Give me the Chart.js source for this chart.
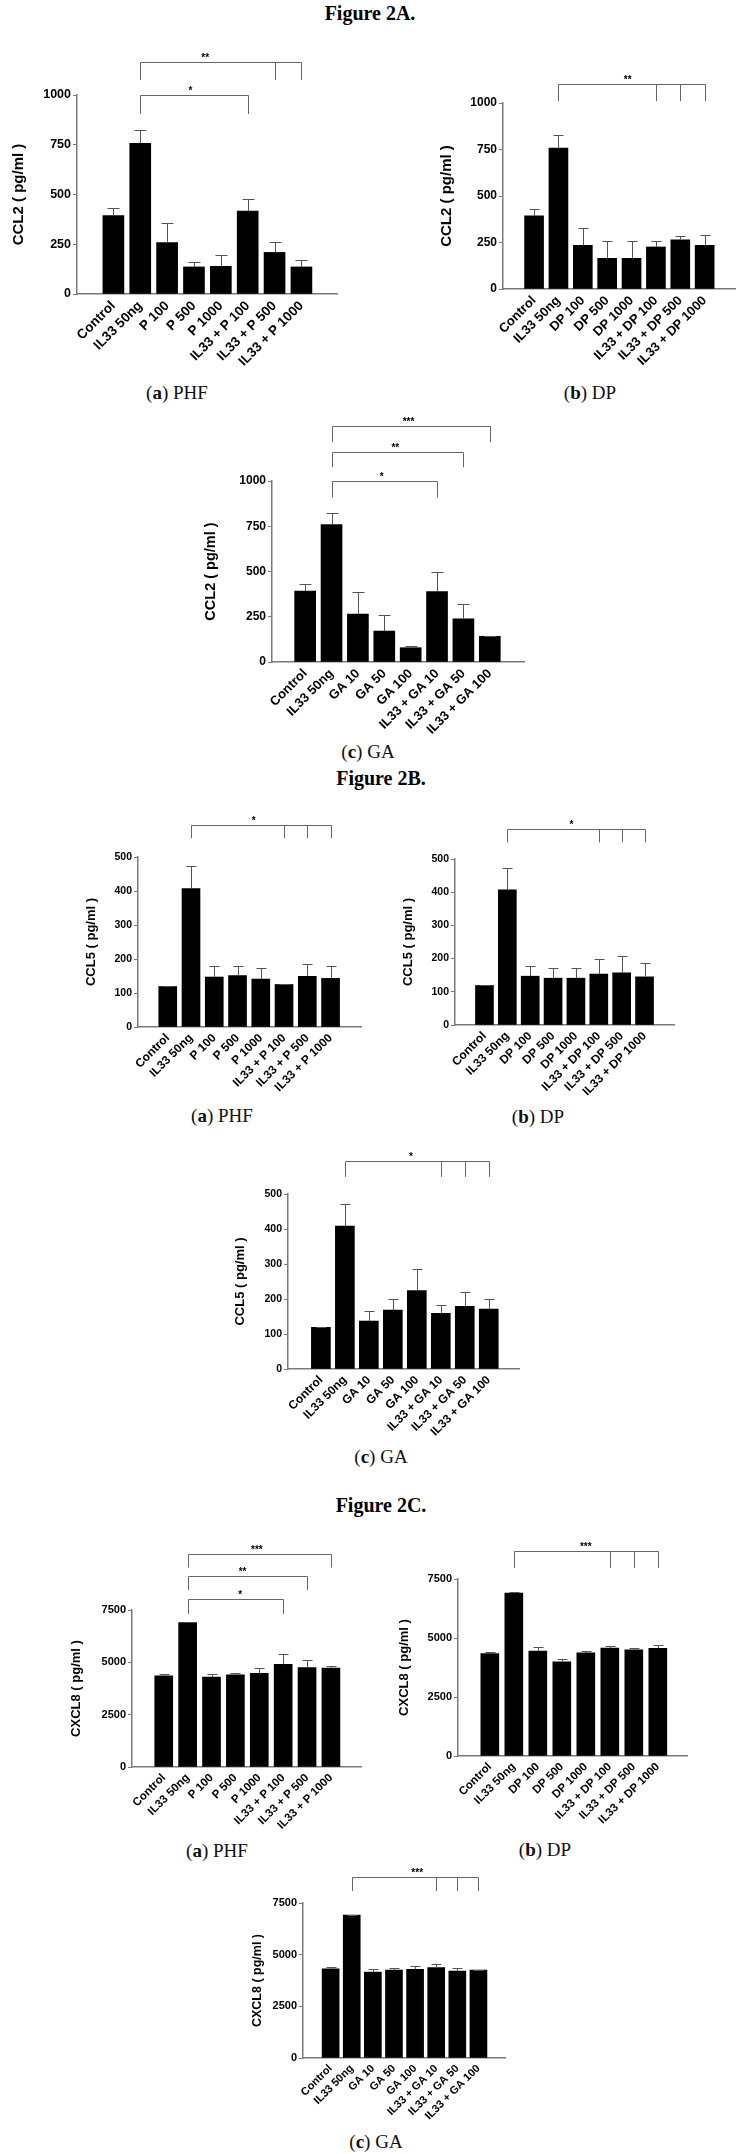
<!DOCTYPE html>
<html><head><meta charset="utf-8">
<script src="https://cdn.jsdelivr.net/npm/chart.js@4/dist/chart.umd.min.js"></script>
<style>
html,body{margin:0;padding:0;background:#fff;}
#page{position:relative;width:744px;height:2154px;overflow:hidden;background:#fff;}
canvas{position:absolute;}
.fig{position:absolute;font-family:'Liberation Serif','Times New Roman',serif;font-weight:bold;font-size:20px;transform:translate(-50%,-50%);white-space:nowrap;color:#000;}
.cap{position:absolute;font-family:'Liberation Serif','Times New Roman',serif;font-size:19px;transform:translate(-50%,-50%);white-space:nowrap;color:#111;}
.cap b{font-weight:bold;}
</style></head><body><div id="page"></div>
<script>
// ---------- categories ----------
const catsPHF = ['Control','IL33 50ng','P 100','P 500','P 1000','IL33 + P 100','IL33 + P 500','IL33 + P 1000'];
const catsDP  = ['Control','IL33 50ng','DP 100','DP 500','DP 1000','IL33 + DP 100','IL33 + DP 500','IL33 + DP 1000'];
const catsGA  = ['Control','IL33 50ng','GA 10','GA 50','GA 100','IL33 + GA 10','IL33 + GA 50','IL33 + GA 100'];

// ---------- tick labels ----------
const ticksCCL2  = [0, 250, 500, 750, 1000];
const ticksCCL5  = [0, 100, 200, 300, 400, 500];
const ticksCXCL8 = [0, 2500, 5000, 7500];

// ---------- Figure 2A : CCL2 (pg/ml) ----------
const ccl2PHF    = [394, 757, 258, 136, 139, 417, 209, 136];
const ccl2PHFErr = [36, 67, 97, 26, 59, 62, 51, 33];
const ccl2DP     = [394, 758, 235, 165, 165, 226, 265, 235];
const ccl2DPErr  = [36, 68, 91, 91, 95, 32, 18, 54];
const ccl2GA     = [392, 759, 265, 171, 79, 389, 239, 142];
const ccl2GAErr  = [39, 66, 122, 89, 9, 106, 81, 3];

// ---------- Figure 2B : CCL5 (pg/ml) ----------
const ccl5PHF    = [119, 407, 147, 151, 141, 125, 149, 143];
const ccl5PHFErr = [2, 67, 33, 29, 34, 1, 35, 35];
const ccl5DP     = [119, 407, 147, 141, 141, 153, 157, 145];
const ccl5DPErr  = [1, 66, 31, 32, 32, 45, 52, 41];
const ccl5GA     = [119, 408, 137, 168, 224, 159, 179, 171];
const ccl5GAErr  = [2, 64, 30, 31, 61, 23, 40, 30];

// ---------- Figure 2C : CXCL8 (pg/ml) ----------
const cxcl8PHF    = [4350, 6900, 4300, 4400, 4480, 4900, 4750, 4720];
const cxcl8PHFErr = [80, 50, 150, 100, 240, 520, 350, 110];
const cxcl8DP     = [4340, 6900, 4450, 3990, 4370, 4570, 4500, 4560];
const cxcl8DPErr  = [80, 30, 150, 130, 100, 90, 70, 160];
const cxcl8GA     = [4310, 6920, 4160, 4260, 4290, 4370, 4210, 4260];
const cxcl8GAErr  = [90, 10, 150, 90, 160, 180, 140, 20];

// ---------- significance brackets (value units) ----------
const sigA_PHF = [{from:1,to:[6,7],level:1164,drop:1075,label:'**',at:3.42},
                  {from:1,to:[5],level:998,drop:905,label:'*',at:2.87}];
const sigA_DP  = [{from:1,to:[5,6,7],level:1104,drop:1010,label:'**',at:3.84}];
const sigA_GA  = [{from:1,to:[7],level:1302,drop:1214,label:'***',at:3.92},
                  {from:1,to:[6],level:1159,drop:1076,label:'**',at:3.42},
                  {from:1,to:[5],level:1000,drop:908,label:'*',at:2.9}];
const sigB_PHF = [{from:1,to:[5,6,7],level:593,drop:555,label:'*',at:3.7}];
const sigB_DP  = [{from:1,to:[5,6,7],level:589,drop:550,label:'*',at:3.8}];
const sigB_GA  = [{from:1,to:[5,6,7],level:594,drop:549,label:'*',at:3.76}];
const sigC_PHF = [{from:1,to:[7],level:10190,drop:9530,label:'***',at:3.9},
                  {from:1,to:[6],level:9110,drop:8450,label:'**',at:3.3},
                  {from:1,to:[5],level:8020,drop:7310,label:'*',at:3.2}];
const sigC_DP  = [{from:1,to:[5,6,7],level:8690,drop:7970,label:'***',at:4.0}];
const sigC_GA  = [{from:1,to:[5,6,7],level:8760,drop:8080,label:'***',at:4.1}];

// ---------- layout (positions / styles only) ----------
const panels = [
 {cats:catsPHF, mean:ccl2PHF, err:ccl2PHFErr, ticks:ticksCCL2, sig:sigA_PHF, title:'CCL2 ( pg/ml )',
  top:30, bottom:385, titleX:18.5, titleSize:15, axisX:77, xEnd:337, yTop:95, yZero:294, xRange:[-0.75,7.72], barW:21, tickSize:12.5, labelSize:13.5},
 {cats:catsDP, mean:ccl2DP, err:ccl2DPErr, ticks:ticksCCL2, sig:sigA_DP, title:'CCL2 ( pg/ml )',
  top:40, bottom:385, titleX:447, titleSize:15, axisX:503, xEnd:735, yTop:103, yZero:289, xRange:[-0.68,7.65], barW:19, tickSize:12, labelSize:13},
 {cats:catsGA, mean:ccl2GA, err:ccl2GAErr, ticks:ticksCCL2, sig:sigA_GA, title:'CCL2 ( pg/ml )',
  top:400, bottom:740, titleX:211, titleSize:14.5, axisX:272, xEnd:524, yTop:481, yZero:662, xRange:[-0.66,7.70], barW:21, tickSize:12, labelSize:13},
 {cats:catsPHF, mean:ccl5PHF, err:ccl5PHFErr, ticks:ticksCCL5, sig:sigB_PHF, title:'CCL5 ( pg/ml )',
  top:795, bottom:1100, titleX:92, titleSize:13, axisX:138, xEnd:361, yTop:857, yZero:1027, xRange:[-0.68,7.71], barW:18, tickSize:10.5, labelSize:12},
 {cats:catsDP, mean:ccl5DP, err:ccl5DPErr, ticks:ticksCCL5, sig:sigB_DP, title:'CCL5 ( pg/ml )',
  top:795, bottom:1100, titleX:409, titleSize:13, axisX:455, xEnd:674, yTop:859, yZero:1025, xRange:[-0.69,7.69], barW:18, tickSize:10.5, labelSize:12},
 {cats:catsGA, mean:ccl5GA, err:ccl5GAErr, ticks:ticksCCL5, sig:sigB_GA, title:'CCL5 ( pg/ml )',
  top:1130, bottom:1440, titleX:241, titleSize:13, axisX:288, xEnd:519, yTop:1194, yZero:1369, xRange:[-0.77,7.66], barW:19, tickSize:10.5, labelSize:12},
 {cats:catsPHF, mean:cxcl8PHF, err:cxcl8PHFErr, ticks:ticksCXCL8, sig:sigC_PHF, title:'CXCL8 ( pg/ml )',
  top:1525, bottom:1835, titleX:77, titleSize:13, axisX:132, xEnd:361, yTop:1610, yZero:1767, xRange:[-0.73,7.66], barW:18, tickSize:11, labelSize:11.5},
 {cats:catsDP, mean:cxcl8DP, err:cxcl8DPErr, ticks:ticksCXCL8, sig:sigC_DP, title:'CXCL8 ( pg/ml )',
  top:1525, bottom:1835, titleX:405, titleSize:13, axisX:458, xEnd:687, yTop:1579, yZero:1756, xRange:[-0.73,7.62], barW:18, tickSize:11, labelSize:11.5},
 {cats:catsGA, mean:cxcl8GA, err:cxcl8GAErr, ticks:ticksCXCL8, sig:sigC_GA, title:'CXCL8 ( pg/ml )',
  top:1855, bottom:2130, titleX:257, titleSize:12.5, axisX:303, xEnd:505, yTop:1903, yZero:2058, xRange:[-0.71,7.66], barW:17, tickSize:11, labelSize:11}
];

const headings = [
 {text:'Figure 2A.', x:370, y:13},
 {text:'Figure 2B.', x:381, y:778},
 {text:'Figure 2C.', x:381, y:1505}
];
const captions = [
 {l:'a', t:'PHF', x:177, y:393}, {l:'b', t:'DP', x:590, y:393}, {l:'c', t:'GA', x:368, y:752},
 {l:'a', t:'PHF', x:222, y:1116}, {l:'b', t:'DP', x:538, y:1117}, {l:'c', t:'GA', x:381, y:1457},
 {l:'a', t:'PHF', x:217, y:1851}, {l:'b', t:'DP', x:545, y:1850}, {l:'c', t:'GA', x:376, y:2142}
];

const page = document.getElementById('page');
headings.forEach(h => {
  const d = document.createElement('div'); d.className = 'fig';
  d.style.left = h.x + 'px'; d.style.top = h.y + 'px'; d.textContent = h.text; page.appendChild(d);
});
captions.forEach(c => {
  const d = document.createElement('div'); d.className = 'cap';
  d.style.left = c.x + 'px'; d.style.top = c.y + 'px';
  d.innerHTML = '(<b>' + c.l + '</b>) ' + c.t; page.appendChild(d);
});

Chart.defaults.font.family = "'Liberation Sans', Arial, sans-serif";
Chart.defaults.color = '#000';
const AXIS = '#7a7a7a';

function makePanel(p) {
  const cLeft = Math.round(p.titleX - 0.6 * p.titleSize);
  const W = p.xEnd - cLeft + 8;
  const H = p.bottom - p.top;
  const cv = document.createElement('canvas');
  cv.width = W; cv.height = H;
  cv.style.left = cLeft + 'px'; cv.style.top = p.top + 'px';
  cv.style.width = W + 'px'; cv.style.height = H + 'px';
  page.appendChild(cv);

  const overlay = {
    id: 'errAndSig',
    afterDatasetsDraw(chart) {
      const {ctx, scales: {x, y}} = chart;
      ctx.save();
      ctx.strokeStyle = '#555'; ctx.lineWidth = 1;
      p.mean.forEach((m, i) => {
        const px = Math.round(x.getPixelForValue(i)) + 0.5;
        const y0 = y.getPixelForValue(m);
        const y1 = Math.round(y.getPixelForValue(m + p.err[i])) + 0.5;
        const cw = Math.round(p.barW * 0.27);
        ctx.beginPath();
        ctx.moveTo(px, y0); ctx.lineTo(px, y1);
        ctx.moveTo(px - cw, y1); ctx.lineTo(px + cw, y1);
        ctx.stroke();
      });
      ctx.strokeStyle = '#666';
      ctx.fillStyle = '#000';
      ctx.font = "bold 10px 'Liberation Sans', Arial, sans-serif";
      ctx.textAlign = 'center'; ctx.textBaseline = 'alphabetic';
      p.sig.forEach(b => {
        const yb = Math.round(y.getPixelForValue(b.level)) + 0.5;
        const yd = y.getPixelForValue(b.drop);
        const xs = [b.from].concat(b.to).map(i => Math.round(x.getPixelForValue(i)) + 0.5);
        const xl = Math.min.apply(null, xs), xr = Math.max.apply(null, xs);
        ctx.beginPath();
        ctx.moveTo(xl, yb); ctx.lineTo(xr, yb);
        xs.forEach(px => { ctx.moveTo(px, yb); ctx.lineTo(px, yd); });
        ctx.stroke();
        ctx.fillText(b.label, x.getPixelForValue(b.at), yb - 2);
      });
      ctx.restore();
    }
  };

  new Chart(cv, {
    type: 'bar',
    data: {
      datasets: [{
        data: p.mean.map((v, i) => ({x: i, y: v})),
        backgroundColor: '#000',
        borderColor: '#222',
        borderWidth: 0,
        barThickness: p.barW
      }]
    },
    options: {
      responsive: false,
      animation: false,
      devicePixelRatio: 1,
      layout: {padding: {top: p.yTop - p.top, right: 8, left: 0, bottom: 0}},
      plugins: {legend: {display: false}, tooltip: {enabled: false}},
      scales: {
        x: {
          type: 'linear',
          min: p.xRange[0], max: p.xRange[1],
          grid: {display: false, drawTicks: false},
          border: {display: true, color: AXIS, width: 1.5},
          afterBuildTicks: s => { s.ticks = p.cats.map((c, i) => ({value: i})); },
          afterFit: s => { s.height = p.bottom - p.yZero; },
          ticks: {
            autoSkip: false, maxRotation: 45, minRotation: 45, padding: 4,
            font: {size: p.labelSize, weight: 'bold'}, color: '#000',
            callback: v => p.cats[Math.round(v)]
          }
        },
        y: {
          type: 'linear',
          min: p.ticks[0], max: p.ticks[p.ticks.length - 1],
          grid: {display: true, drawOnChartArea: false, drawTicks: true, tickLength: 4, color: AXIS, lineWidth: 1},
          border: {display: true, color: AXIS, width: 1.5},
          afterBuildTicks: s => { s.ticks = p.ticks.map(v => ({value: v})); },
          afterFit: s => { s.width = p.axisX - cLeft; },
          ticks: {padding: 2, font: {size: p.tickSize, weight: 'bold'}, color: '#000', callback: v => String(v)},
          title: {display: true, text: p.title, padding: 0, font: {size: p.titleSize, weight: 'bold'}, color: '#000'}
        }
      }
    },
    plugins: [overlay]
  });
}
panels.forEach(makePanel);
</script>
</body></html>
